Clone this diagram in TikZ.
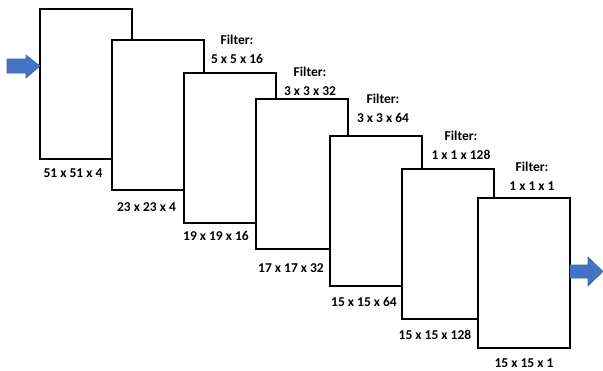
\documentclass[tikz,border=0pt]{standalone}
\usepackage{fontspec}
\setmainfont{Carlito}
\begin{document}
\begin{tikzpicture}[x=1pt,y=-1pt,
  layer/.style={draw=black, fill=white, line width=2.4pt, minimum width=92pt, minimum height=150pt, anchor=north west, inner sep=0pt, outer sep=0pt},
  lab/.style={font=\fontsize{13.5}{19}\selectfont\bfseries, inner sep=0pt, align=center},
  blockarrow/.style={fill=arrowblue, draw=arrowedge, line width=0.6pt}]
\definecolor{arrowblue}{HTML}{4472C4}
\definecolor{arrowedge}{HTML}{3A64B0}
\useasboundingbox (0,0) rectangle (603,370);
\node[layer] (l1) at (40,9) {};
\node[layer] (l2) at (112,40) {};
\node[layer] (l3) at (184,73) {};
\node[layer] (l4) at (256,99) {};
\node[layer] (l5) at (330,136) {};
\node[layer] (l6) at (402,169) {};
\node[layer] (l7) at (478,198) {};
% bottom size labels
\node[lab] (s1) at (73,173) {51 x 51 x 4};
\node[lab] (s2) at (146.5,207) {23 x 23 x 4};
\node[lab] (s3) at (216,236) {19 x 19 x 16};
\node[lab] (s4) at (291,268) {17 x 17 x 32};
\node[lab] (s5) at (364,302) {15 x 15 x 64};
\node[lab] (s6) at (435,335) {15 x 15 x 128};
\node[lab] (s7) at (524,363) {15 x 15 x 1};
% filter labels
\node[lab] (f1) at (237,49.5) {Filter:\\5 x 5 x 16};
\node[lab] (f2) at (310,81) {Filter:\\3 x 3 x 32};
\node[lab] (f3) at (383,108) {Filter:\\3 x 3 x 64};
\node[lab] (f4) at (461,145.5) {Filter:\\1 x 1 x 128};
\node[lab] (f5) at (532,176) {Filter:\\1 x 1 x 1};
% input / output block arrows
\draw[blockarrow] (7,59) -- (26,59) -- (26,55) -- (40,66) -- (26,78) -- (26,73) -- (7,73) -- cycle;
\draw[blockarrow] (570,265) -- (588,265) -- (588,257) -- (603,271.5) -- (588,286) -- (588,278) -- (570,278) -- cycle;
\end{tikzpicture}
\end{document}
